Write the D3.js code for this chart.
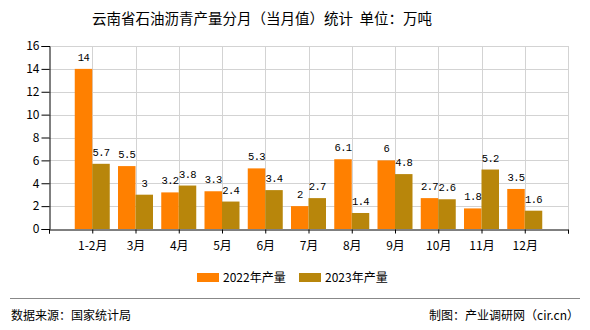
<!DOCTYPE html>
<html>
<head>
<meta charset="utf-8">
<script src="https://cdn.jsdelivr.net/npm/d3@7/dist/d3.min.js"></script>
<style>
  html, body { margin: 0; padding: 0; background: #fff; }
  svg text { font-family: "Noto Sans CJK SC", "DejaVu Sans", sans-serif; }
</style>
</head>
<body>
<svg id="chart" width="590" height="330"></svg>
<script>
// Monthly asphalt output in Yunnan (10k tonnes)
const months = ["1-2月", "3月", "4月", "5月", "6月", "7月", "8月", "9月", "10月", "11月", "12月"];
const output2022 = [14, 5.5, 3.2, 3.3, 5.3, 2, 6.1, 6, 2.7, 1.8, 3.5];
const output2023 = [5.7, 3, 3.8, 2.4, 3.4, 2.7, 1.4, 4.8, 2.6, 5.2, 1.6];
const seriesNames = ["2022年产量", "2023年产量"];
const seriesColors = ["#ff8000", "#b8860b"];
const yTicks = [0, 2, 4, 6, 8, 10, 12, 14, 16];

const svg = d3.select("#chart");
const plotLeft = 49, plotRight = 568, plotTop = 46, plotBottom = 229;

// Slot 0 is left empty; months occupy slots 1..11
const x = d3.scaleLinear().domain([0, months.length + 1]).range([plotLeft, plotRight]);
const y = d3.scaleLinear().domain([0, 16]).range([plotBottom, plotTop]);
const barW = 17.5;

// Title
svg.append("text")
  .attr("x", 92).attr("y", 24)
  .attr("text-anchor", "start")
  .attr("font-size", 14.5)
  .attr("fill", "#000")
  .style("white-space", "pre")
  .text("云南省石油沥青产量分月（当月值）统计  单位：万吨");

// Grid lines
const grid = svg.append("g").attr("stroke", "#d3d3d3").attr("stroke-width", 1);
yTicks.filter(t => t > 0).forEach(t => {
  grid.append("line")
    .attr("x1", plotLeft).attr("x2", plotRight)
    .attr("y1", Math.round(y(t)) + 0.5).attr("y2", Math.round(y(t)) + 0.5);
});
d3.range(1, months.length + 2).forEach(i => {
  grid.append("line")
    .attr("x1", Math.round(x(i)) + 0.5).attr("x2", Math.round(x(i)) + 0.5)
    .attr("y1", plotTop).attr("y2", plotBottom);
});

// Bars
const bars = svg.append("g");
const series = [output2022, output2023];
series.forEach((vals, s) => {
  bars.selectAll(null)
    .data(vals)
    .enter().append("rect")
    .attr("x", (d, i) => x(i + 1) - barW + s * barW)
    .attr("width", barW)
    .attr("y", d => y(d))
    .attr("height", d => plotBottom - y(d))
    .attr("fill", seriesColors[s]);
});

// Value labels
const labels = svg.append("g")
  .attr("font-size", 10.5)
  .attr("text-anchor", "middle")
  .attr("fill", "#000");
series.forEach((vals, s) => {
  labels.selectAll(null)
    .data(vals)
    .enter().append("text")
    .style("font-family", "'Liberation Mono', 'DejaVu Sans Mono', monospace")
    .attr("letter-spacing", -0.6)
    .attr("x", (d, i) => x(i + 1) - barW / 2 + s * barW)
    .attr("y", d => y(d) - 8)
    .text(d => d);
});

// Axes
const xAxis = d3.axisBottom(x)
  .tickValues(d3.range(0, months.length + 2))
  .tickSize(4)
  .tickFormat(i => (i >= 1 && i <= months.length) ? months[i - 1] : "");
const gx = svg.append("g").attr("transform", `translate(0,${plotBottom + 0.5})`).call(xAxis);
gx.select(".domain").attr("stroke", "#000");
gx.selectAll(".tick line").attr("stroke", "#000");
gx.selectAll(".tick text").attr("font-size", 12).attr("fill", "#000").attr("dy", "1.1em");

const yAxis = d3.axisLeft(y).tickValues(yTicks).tickSize(8).tickPadding(2).tickFormat(d3.format("d"));
const gy = svg.append("g").attr("transform", `translate(${plotLeft + 0.5},0)`).call(yAxis);
gy.select(".domain").attr("stroke", "#000");
gy.selectAll(".tick line").attr("stroke", "#000");
gy.selectAll(".tick text").attr("font-size", 12).attr("fill", "#000");

// Legend
const legend = svg.append("g");
const legendX = [197, 299];
seriesNames.forEach((name, s) => {
  legend.append("rect")
    .attr("x", legendX[s]).attr("y", 273)
    .attr("width", 22).attr("height", 9)
    .attr("fill", seriesColors[s]);
  legend.append("text")
    .attr("x", legendX[s] + 26).attr("y", 282)
    .attr("font-size", 12).attr("fill", "#000")
    .text(name);
});

// Footer
svg.append("line")
  .attr("x1", 10).attr("x2", 580)
  .attr("y1", 298.5).attr("y2", 298.5)
  .attr("stroke", "#888").attr("stroke-width", 1);
svg.append("text")
  .attr("x", 11).attr("y", 320)
  .attr("font-size", 12).attr("fill", "#000")
  .text("数据来源：国家统计局");
svg.append("text")
  .attr("x", 579).attr("y", 320)
  .attr("text-anchor", "end")
  .attr("font-size", 12).attr("fill", "#000")
  .text("制图：产业调研网（cir.cn）");
</script>
</body>
</html>
